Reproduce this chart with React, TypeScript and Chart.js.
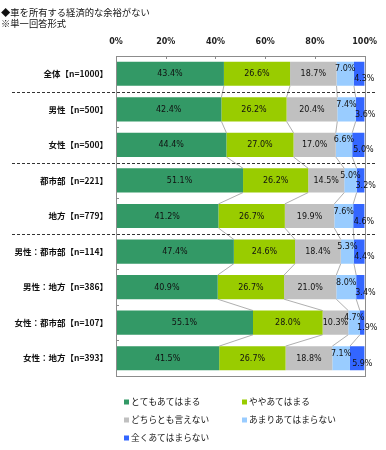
import React, { useEffect, useRef } from "react";
import { Chart, registerables } from "chart.js";
Chart.register(...registerables);

const titleLines = ["◆車を所有する経済的な余裕がない", "※単一回答形式"];
const categories = [
  "全体【n=1000】",
  "男性【n=500】",
  "女性【n=500】",
  "都市部【n=221】",
  "地方【n=779】",
  "男性：都市部【n=114】",
  "男性：地方【n=386】",
  "女性：都市部【n=107】",
  "女性：地方【n=393】",
];
const seriesNames = ["とてもあてはまる", "ややあてはまる", "どちらとも言えない", "あまりあてはまらない", "全くあてはまらない"];
const veryTrue = [43.4, 42.4, 44.4, 51.1, 41.2, 47.4, 40.9, 55.1, 41.5];
const somewhatTrue = [26.6, 26.2, 27.0, 26.2, 26.7, 24.6, 26.7, 28.0, 26.7];
const neither = [18.7, 20.4, 17.0, 14.5, 19.9, 18.4, 21.0, 10.3, 18.8];
const notReally = [7.0, 7.4, 6.6, 5.0, 7.6, 5.3, 8.0, 4.7, 7.1];
const notAtAll = [4.3, 3.6, 5.0, 3.2, 4.6, 4.4, 3.4, 1.9, 5.9];
const xTickValues = [0, 20, 40, 60, 80, 100];
const groupBreaksAfter = [0, 2, 4];
const seriesColors = ["#339966", "#99CC00", "#C0C0C0", "#99CCFF", "#3366FF"];

const CJK = "'Noto Sans CJK JP', sans-serif";
const LAT = "'DejaVu Sans', sans-serif";

const decorPlugin = {
  id: "decor",
  afterDatasetsDraw(chart: any) {
    const ctx = chart.ctx;
    const area = chart.chartArea;
    const xs = chart.scales.x;
    const ys = chart.scales.y;
    ctx.save();
    // series connector lines
    ctx.strokeStyle = "#9a9a9a";
    ctx.lineWidth = 0.8;
    const nDs = chart.data.datasets.length;
    for (let d = 0; d < nDs - 1; d++) {
      const meta = chart.getDatasetMeta(d);
      for (let i = 0; i < categories.length - 1; i++) {
        const a = meta.data[i];
        const b = meta.data[i + 1];
        ctx.beginPath();
        ctx.moveTo(a.x, a.y + a.height / 2);
        ctx.lineTo(b.x, b.y - b.height / 2);
        ctx.stroke();
      }
    }
    // border
    ctx.strokeStyle = "#8c8c8c";
    ctx.lineWidth = 1;
    ctx.strokeRect(Math.round(area.left) + 0.5, Math.round(area.top) + 0.5, Math.round(area.right - area.left), Math.round(area.bottom - area.top));
    // inner ticks top
    ctx.beginPath();
    for (const v of xTickValues) {
      const x = Math.round(xs.getPixelForValue(v)) + 0.5;
      ctx.moveTo(x, area.top);
      ctx.lineTo(x, area.top + 3);
    }
    // inner ticks left at category boundaries
    for (let i = 1; i < categories.length; i++) {
      const y = Math.round((ys.getPixelForValue(i - 1) + ys.getPixelForValue(i)) / 2) + 0.5;
      ctx.moveTo(area.left, y);
      ctx.lineTo(area.left + 3, y);
    }
    ctx.stroke();
    // separators
    ctx.strokeStyle = "#333";
    ctx.setLineDash([3, 2]);
    ctx.lineWidth = 1;
    for (const i of groupBreaksAfter) {
      const y = Math.round((ys.getPixelForValue(i) + ys.getPixelForValue(i + 1)) / 2) + 0.5;
      ctx.beginPath();
      ctx.moveTo(area.left - 104, y);
      ctx.lineTo(area.right + 11, y);
      ctx.stroke();
    }
    ctx.setLineDash([]);
    // labels
    ctx.fillStyle = "#111";
    ctx.font = "8px " + LAT;
    ctx.textAlign = "center";
    ctx.textBaseline = "middle";
    for (let d = 0; d < nDs; d++) {
      const meta = chart.getDatasetMeta(d);
      const vals = chart.data.datasets[d].data;
      meta.data.forEach((el: any, i: number) => {
        let cx = (el.x + el.base) / 2;
        let cy = el.y;
        if (d === 3) cy -= 5;
        if (d === 4) { cy += 5; cx += 5; }
        ctx.fillText(vals[i].toFixed(1) + "%", cx, cy + 0.5);
      });
    }
    ctx.restore();
  },
  afterDraw(chart: any) {
    const ctx = chart.ctx;
    const area = chart.chartArea;
    ctx.save();
    ctx.fillStyle = "#111";
    ctx.textAlign = "left";
    ctx.textBaseline = "middle";
    ctx.font = "9.3px " + CJK;
    titleLines.forEach((t, i) => ctx.fillText(t, 1, 12 + i * 11.5));
    // legend
    ctx.font = "8.7px " + CJK;
    chart.data.datasets.forEach((ds: any, i: number) => {
      const col = i % 2;
      const row = Math.floor(i / 2);
      const x = area.left + 8 + col * 118;
      const y = area.bottom + 26 + row * 18;
      ctx.fillStyle = ds.backgroundColor;
      ctx.fillRect(x, y - 2.5, 5, 5);
      ctx.fillStyle = "#111";
      ctx.fillText(ds.label, x + 7, y);
    });
    ctx.restore();
  },
};

export default function App() {
  const ref = useRef<HTMLCanvasElement>(null);
  useEffect(() => {
    if (!ref.current) return;
    const seriesData = [veryTrue, somewhatTrue, neither, notReally, notAtAll];
    const chart = new Chart(ref.current, {
      type: "bar",
      data: {
        labels: categories,
        datasets: seriesNames.map((name, i) => ({
          label: name,
          data: seriesData[i],
          backgroundColor: seriesColors[i],
          borderWidth: 0,
          categoryPercentage: 0.68,
          barPercentage: 1,
        })),
      },
      options: {
        indexAxis: "y",
        responsive: false,
        animation: false,
        devicePixelRatio: 1,
        layout: { padding: { left: 0, top: 0, right: 21, bottom: 74 } },
        plugins: { legend: { display: false }, tooltip: { enabled: false }, title: { display: false } },
        scales: {
          x: {
            position: "top",
            stacked: true,
            min: 0,
            max: 100,
            afterFit: (s: any) => { s.height = 56; },
            afterBuildTicks: (s: any) => { s.ticks = xTickValues.map((v) => ({ value: v })); },
            grid: { display: false, drawTicks: false },
            border: { display: false },
            ticks: {
              padding: 9,
              color: "#222",
              font: { family: LAT, size: 8, weight: "bold" },
              callback: (v: any) => v + "%",
            },
          },
          y: {
            stacked: true,
            afterFit: (s: any) => { s.width = 116; },
            grid: { display: false, drawTicks: false },
            border: { display: false },
            ticks: {
              padding: 8,
              color: "#111",
              font: { family: CJK, size: 8.5, weight: "bold" },
            },
          },
        },
      },
      plugins: [decorPlugin],
    } as any);
    return () => chart.destroy();
  }, []);
  return (
    <div style={{ position: "absolute", left: 0, top: 0, width: 386, height: 450, background: "#fff" }}>
      <canvas ref={ref} width={386} height={450} />
    </div>
  );
}
